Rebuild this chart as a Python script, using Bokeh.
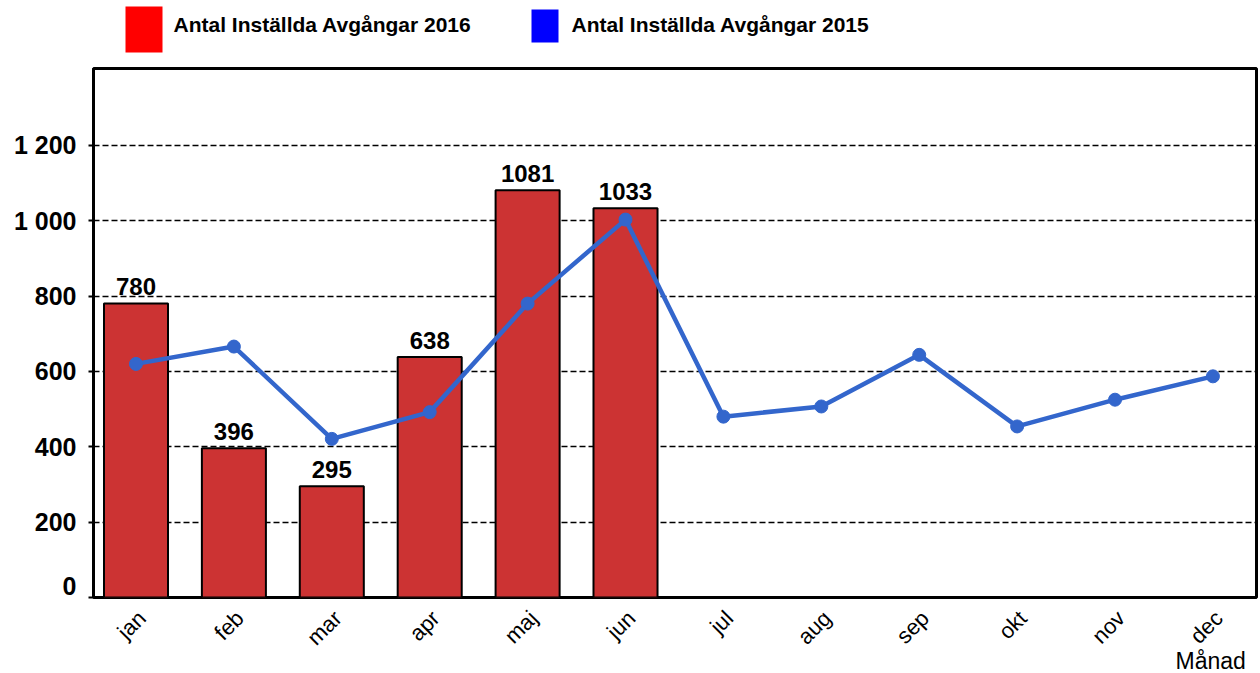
import math
from bokeh.plotting import figure
from bokeh.layouts import column
from bokeh.models import Range1d, FixedTicker, Label, ColumnDataSource
from bokeh.core.properties import value
from bokeh.embed import file_html
from bokeh.resources import INLINE

months = ["jan", "feb", "mar", "apr", "maj", "jun", "jul", "aug", "sep", "okt", "nov", "dec"]
vals_2016 = [780, 396, 295, 638, 1081, 1033]
vals_2015 = [620, 666, 421, 492, 780, 1003, 480, 507, 644, 454, 525, 587]
y_ticks = [0, 200, 400, 600, 800, 1000, 1200]
y_tick_labels = ["0", "200", "400", "600", "800", "1 000", "1 200"]
series_names = ["Antal Inställda Avgångar 2016", "Antal Inställda Avgångar 2015"]
x_title = "Månad"

FONT = value("Liberation Sans")
RED = "#CC3333"
BLUE = "#3366CC"

W = 1260
FRAME_L, FRAME_R = 93, 1256

def strip(height, x_range, y_range):
    f = figure(width=W, height=height, x_range=x_range, y_range=y_range,
               toolbar_location=None, output_backend="svg", x_axis_type=None, y_axis_type=None,
               min_border_left=FRAME_L, min_border_right=W - FRAME_R,
               min_border_top=0, min_border_bottom=0)
    f.grid.visible = False
    f.outline_line_color = None
    return f

# ---- legend strip (frame aligned with the main frame, so x maps page px directly) ----
lg = strip(66, Range1d(FRAME_L, FRAME_R), Range1d(66, 0))
lg.quad(left=[125, 531], right=[162, 558], top=[6, 9], bottom=[52, 42],
        fill_color=["#FF0000", "#0000FF"], line_color=None)
lg.text(x=[173, 571], y=[24, 24], text=series_names, text_font=FONT,
        text_font_style="bold", text_font_size="21px", text_baseline="middle", text_color="black")

# ---- main chart ----
idx_all = list(range(len(months)))
idx_16 = list(range(len(vals_2016)))

p = figure(width=W, height=533, x_range=Range1d(-0.434, 11.445), y_range=Range1d(0, 1404),
           toolbar_location=None, output_backend="svg", x_axis_type=None,
           min_border_left=FRAME_L, min_border_right=W - FRAME_R, min_border_top=2, min_border_bottom=2)
p.outline_line_color = "black"
p.outline_line_width = 3
p.background_fill_color = "white"
p.border_fill_color = "white"

p.xgrid.visible = False
p.ygrid.ticker = FixedTicker(ticks=y_ticks[1:])
p.ygrid.grid_line_color = "black"
p.ygrid.grid_line_dash = "6 3"
p.ygrid.grid_line_width = 1.5

bar_src = ColumnDataSource(dict(x=idx_16, top=vals_2016, lbl=[str(v) for v in vals_2016]))
p.vbar(x="x", top="top", width=0.654, source=bar_src, fill_color=RED,
       line_color="black", line_width=2)
p.text(x="x", y="top", text="lbl", source=bar_src, text_align="center",
       text_baseline="middle", y_offset=-17, text_font=FONT, text_font_style="bold",
       text_font_size="24px", text_color="black")

line_src = ColumnDataSource(dict(x=idx_all, y=vals_2015))
p.line(x="x", y="y", source=line_src, line_color=BLUE, line_width=4.5)
p.scatter(x="x", y="y", source=line_src, size=13, fill_color=BLUE, line_color=BLUE)

p.yaxis.ticker = FixedTicker(ticks=y_ticks)
p.yaxis.major_label_overrides = {t: l for t, l in zip(y_ticks, y_tick_labels)}
p.yaxis.major_label_text_font = "Liberation Sans"
p.yaxis.major_label_text_font_style = "bold"
p.yaxis.major_label_text_font_size = "25px"
p.yaxis.major_label_text_color = "black"
p.yaxis.major_tick_out = 5
p.yaxis.major_tick_in = 0
p.yaxis.minor_tick_out = 0
p.yaxis.minor_tick_in = 0
p.yaxis.major_tick_line_width = 2
p.yaxis.major_label_standoff = 12
p.yaxis.axis_line_width = 3
p.yaxis.axis_line_color = "black"

# ---- category label strip below the chart (shares the x scale) ----
bt = strip(74, p.x_range, Range1d(0, 74))
mon_src = ColumnDataSource(dict(x=idx_all, t=months))
bt.text(x="x", y=59, text="t", source=mon_src, angle=math.pi / 4, text_align="right",
        text_baseline="middle", x_offset=6, text_font=FONT, text_font_size="22px",
        text_color="black")
bt.add_layout(Label(x=1082, y=13, x_units="screen", y_units="screen", text=x_title,
                    text_font="Liberation Sans", text_font_size="23px", text_color="black",
                    text_baseline="middle"))

layout = column(lg, p, bt, spacing=0)
open("out.html", "w").write(file_html(layout, INLINE))
